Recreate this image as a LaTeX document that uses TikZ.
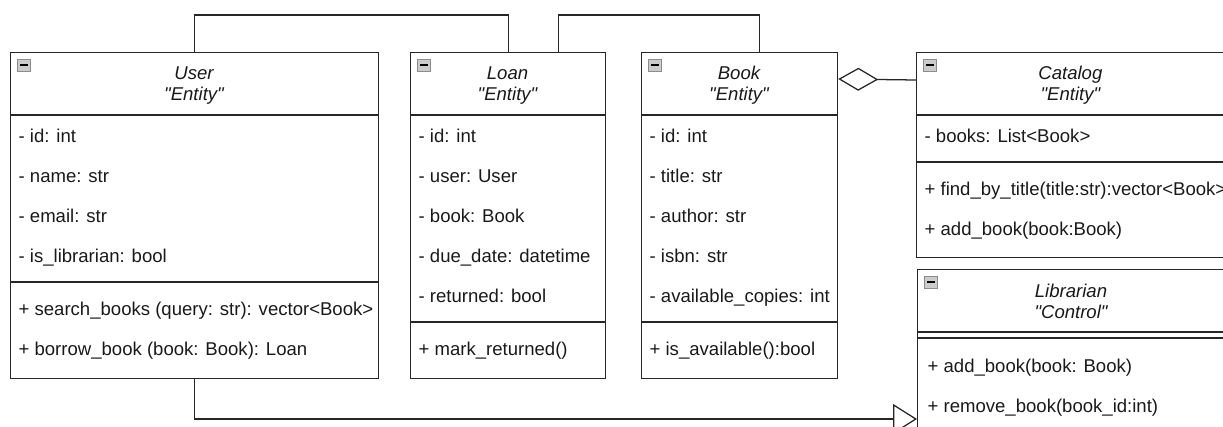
\documentclass[tikz,border=0pt]{standalone}
\usepackage{fontspec}
\setmainfont{Liberation Sans}
\usetikzlibrary{arrows.meta, positioning}

\begin{document}
\begin{tikzpicture}[font=\fontsize{13.2}{15}\selectfont, line width=0.9pt,
    classbox/.style={draw=black!85, rectangle, anchor=north west, inner sep=0pt},
    title/.style={font=\fontsize{13.2}{15}\selectfont\itshape, anchor=base, inner sep=0pt, text=black!90},
    member/.style={anchor=base west, inner sep=0pt, text=black!90},
    icon/.style={draw=black!45, fill=black!20, line width=0.6pt}]
    \useasboundingbox (0,0) rectangle (30.575,-10.65);

    % classes
    \node[classbox, minimum width=9.2cm, minimum height=8.15cm] (user) at (0.25,-1.3) {};
    \node[classbox, minimum width=4.875cm, minimum height=8.15cm] (loan) at (10.25,-1.3) {};
    \node[classbox, minimum width=4.9cm, minimum height=8.15cm] (book) at (16.025,-1.3) {};
    \node[classbox, minimum width=7.725cm, minimum height=5.125cm] (catalog) at (22.9,-1.3) {};
    \node[classbox, minimum width=7.7cm, minimum height=5cm] (librarian) at (22.925,-6.725) {};

    \foreach \c/\d in {user/1.575, user/5.75, loan/1.575, loan/6.75, book/1.575, book/6.75,
                       catalog/1.575, catalog/2.75, librarian/1.575, librarian/1.725}
        \draw[black!85] ([yshift=-\d cm]\c.north west) -- ([yshift=-\d cm]\c.north east);

    \foreach \c in {user, loan, book, catalog, librarian} {
        \draw[icon] ([shift={(0.175,-0.175)}]\c.north west) rectangle ++(0.34,-0.31);
        \draw[line width=1.3pt] ([shift={(0.25,-0.33)}]\c.north west) -- ++(0.19,0);
    }

    \node[title] (user-name) at (4.85,-1.975) {User};
    \node[title] (user-type) at (4.85,-2.5) {\textquotedbl Entity\textquotedbl};
    \node[title] (loan-name) at (12.6875,-1.975) {Loan};
    \node[title] (loan-type) at (12.6875,-2.5) {\textquotedbl Entity\textquotedbl};
    \node[title] (book-name) at (18.475,-1.975) {Book};
    \node[title] (book-type) at (18.475,-2.5) {\textquotedbl Entity\textquotedbl};
    \node[title] (catalog-name) at (26.76,-1.975) {Catalog};
    \node[title] (catalog-type) at (26.76,-2.5) {\textquotedbl Entity\textquotedbl};
    \node[title] (librarian-name) at (26.775,-7.425) {Librarian};
    \node[title] (librarian-type) at (26.775,-7.95) {\textquotedbl Control\textquotedbl};

    % members
    \foreach \txt [count=\i] in {- id: int, - name: str, - email: str, - is\_librarian: bool}
        \node[member] (user-a\i) at (0.45,-2.55-\i) {\txt};
    \foreach \txt [count=\i] in {+ search\_books (query: str): vector<Book>, + borrow\_book (book: Book): Loan}
        \node[member] (user-m\i) at (0.45,-6.875-\i) {\txt};

    \foreach \txt [count=\i] in {- id: int, - user: User, - book: Book, - due\_date: datetime, - returned: bool}
        \node[member] (loan-a\i) at (10.45,-2.55-\i) {\txt};
    \node[member] (loan-m1) at (10.45,-8.875) {+ mark\_returned()};

    \foreach \txt [count=\i] in {- id: int, - title: str, - author: str, - isbn: str, - available\_copies: int}
        \node[member] (book-a\i) at (16.225,-2.55-\i) {\txt};
    \node[member] (book-m1) at (16.225,-8.875) {+ is\_available():bool};

    \node[member] (catalog-a1) at (23.1,-3.55) {- books: List<Book>};
    \foreach \txt [count=\i] in {+ find\_by\_title(title:str):vector<Book>, + add\_book(book:Book)}
        \node[member] (catalog-m\i) at (23.1,-3.875-\i) {\txt};

    \foreach \txt [count=\i] in {+ add\_book(book: Book), + remove\_book(book\_id:int)}
        \node[member] (librarian-m\i) at (23.175,-8.3-\i) {\txt};

    % relations
    \draw[black!85] (user.north) -- ++(0,0.925) -| (loan.north);
    \draw[black!85] ([xshift=-1.2cm]loan.north east) -- ++(0,0.925) -| ([xshift=0.5cm]book.north);
    \draw[black!85, {Diamond[open, length=1cm, width=0.575cm]}-] ([yshift=-0.675cm]book.north east) -- ([yshift=-0.7cm]catalog.north west);
    \draw[black!85, -{Triangle[open, length=0.6cm, width=0.75cm]}] (user.south) |- ([yshift=-3.75cm]librarian.north west);
\end{tikzpicture}
\end{document}
